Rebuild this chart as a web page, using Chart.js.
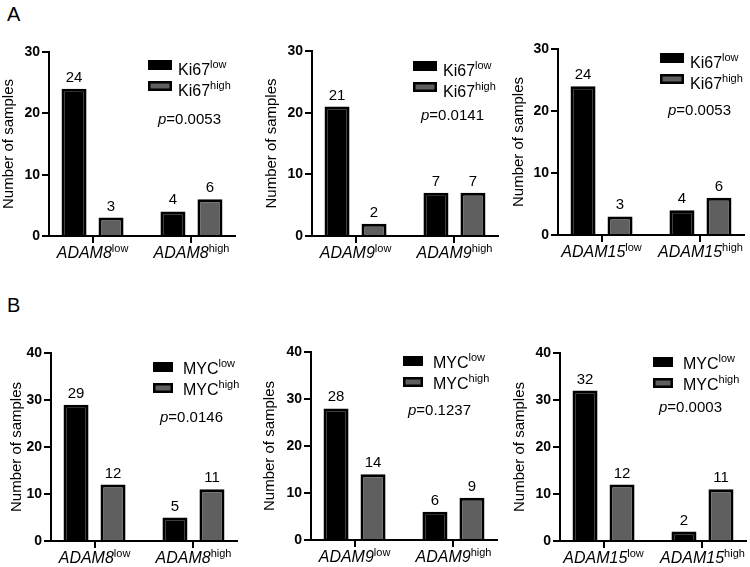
<!DOCTYPE html>
<html>
<head>
<meta charset="utf-8">
<script src="https://cdn.jsdelivr.net/npm/chart.js@4.4.1/dist/chart.umd.min.js"></script>
<style>
  body { margin: 0; background: #fff; }
  #fig { position: relative; width: 750px; height: 567px; overflow: hidden; font-family: 'Liberation Sans', Arial, sans-serif; }
  .tag { position: absolute; font-size: 20px; line-height: 20px; color: #000; }
  canvas { position: absolute; }
</style>
</head>
<body>
<div id="fig">
  <div class="tag" style="left:7px;top:4px">A</div>
  <div class="tag" style="left:7px;top:295px">B</div>
</div>
<script>
// values, [gene low, gene high]
const adam8Ki67Low = [24, 4];
const adam8Ki67High = [3, 6];
const adam9Ki67Low = [21, 7];
const adam9Ki67High = [2, 7];
const adam15Ki67Low = [24, 4];
const adam15Ki67High = [3, 6];
const adam8MycLow = [29, 5];
const adam8MycHigh = [12, 11];
const adam9MycLow = [28, 6];
const adam9MycHigh = [14, 9];
const adam15MycLow = [32, 2];
const adam15MycHigh = [12, 11];

const levels = ['low', 'high'];
const pValues = ['0.0053', '0.0141', '0.0053', '0.0146', '0.1237', '0.0003'];
const yMaxA = 30;
const yMaxB = 40;
const yStep = 10;

const FONT = "'Liberation Sans', Arial, sans-serif";
const Y_AXIS_W = 49;
const X_AXIS_H = 36;
const PAD_TOP = 22;
const PAD_RIGHT = 6;
const PLOT_W = 186;

// layout of each panel (page pixels for the plot area, offsets for legend / p text)
const panels = [
  { gene: 'ADAM8', marker: 'Ki67', low: adam8Ki67Low, high: adam8Ki67High, p: pValues[0], yMax: yMaxA,
    left: 49, top: 52, bottom: 236, titleOff: 40, leg: [99, 8], boxW: 24, gap: 6, txtDy: 15, pPos: [109, 72] },
  { gene: 'ADAM9', marker: 'Ki67', low: adam9Ki67Low, high: adam9Ki67High, p: pValues[1], yMax: yMaxA,
    left: 312, top: 51, bottom: 236, titleOff: 40, leg: [101, 10], boxW: 24, gap: 6, txtDy: 15, pPos: [109, 69] },
  { gene: 'ADAM15', marker: 'Ki67', low: adam15Ki67Low, high: adam15Ki67High, p: pValues[2], yMax: yMaxA,
    left: 558, top: 49, bottom: 235, titleOff: 39, leg: [102, 4], boxW: 24, gap: 6, txtDy: 15, pPos: [110, 66] },
  { gene: 'ADAM8', marker: 'MYC', low: adam8MycLow, high: adam8MycHigh, p: pValues[3], yMax: yMaxB,
    left: 51, top: 353, bottom: 541, titleOff: 34, leg: [102, 9], boxW: 20, gap: 10, txtDy: 12, pPos: [109, 69] },
  { gene: 'ADAM9', marker: 'MYC', low: adam9MycLow, high: adam9MycHigh, p: pValues[4], yMax: yMaxB,
    left: 311, top: 352, bottom: 540, titleOff: 41, leg: [92, 4], boxW: 20, gap: 10, txtDy: 12, pPos: [97, 63] },
  { gene: 'ADAM15', marker: 'MYC', low: adam15MycLow, high: adam15MycHigh, p: pValues[5], yMax: yMaxB,
    left: 560, top: 353, bottom: 541, titleOff: 40, leg: [93, 4], boxW: 20, gap: 10, txtDy: 12, pPos: [99, 59] }
];

function richText(ctx, x, y, parts, align) {
  let w = 0;
  parts.forEach(p => { ctx.font = p.font; p.w = ctx.measureText(p.text).width; w += p.w; });
  let cx = align === 'center' ? x - w / 2 : x;
  ctx.textAlign = 'left';
  ctx.textBaseline = 'alphabetic';
  ctx.fillStyle = '#000';
  parts.forEach(p => { ctx.font = p.font; ctx.fillText(p.text, cx, y + (p.dy || 0)); cx += p.w; });
}

const figureText = {
  id: 'figureText',
  afterDraw(chart, args, opts) {
    const ctx = chart.ctx;
    const area = chart.chartArea;
    const xs = chart.scales.x;
    ctx.save();

    // category labels with superscripts
    levels.forEach((lv, i) => {
      richText(ctx, xs.getPixelForValue(i), area.bottom + 22, [
        { text: opts.gene, font: 'italic 16px ' + FONT },
        { text: lv, font: '11px ' + FONT, dy: -6 }
      ], 'center');
    });

    // value above each bar
    ctx.font = '15px ' + FONT;
    ctx.textAlign = 'center';
    ctx.textBaseline = 'alphabetic';
    ctx.fillStyle = '#000';
    chart.data.datasets.forEach((ds, d) => {
      chart.getDatasetMeta(d).data.forEach((bar, i) => {
        ctx.fillText(String(ds.data[i].y), bar.x, bar.y - 7);
      });
    });

    // legend
    chart.data.datasets.forEach((ds, d) => {
      const bx = area.left + opts.leg[0];
      const by = area.top + opts.leg[1] + d * 21;
      ctx.fillStyle = '#000';
      ctx.fillRect(bx, by, opts.boxW, 10);
      if (d === 1) {
        ctx.fillStyle = ds.backgroundColor;
        ctx.fillRect(bx + 2.5, by + 2.5, opts.boxW - 5, 5);
      }
      richText(ctx, bx + opts.boxW + opts.gap, by + opts.txtDy, [
        { text: opts.marker, font: '16px ' + FONT },
        { text: levels[d], font: '11px ' + FONT, dy: -7 }
      ], 'left');
    });

    // p value
    richText(ctx, area.left + opts.pPos[0], area.top + opts.pPos[1], [
      { text: 'p', font: 'italic 15px ' + FONT },
      { text: '=' + opts.p, font: '15px ' + FONT }
    ], 'left');

    ctx.restore();
  }
};

const fig = document.getElementById('fig');

panels.forEach(pn => {
  const canvas = document.createElement('canvas');
  const w = Y_AXIS_W + PLOT_W + PAD_RIGHT;
  const h = PAD_TOP + (pn.bottom - pn.top) + X_AXIS_H;
  canvas.width = w;
  canvas.height = h;
  canvas.style.left = (pn.left - Y_AXIS_W) + 'px';
  canvas.style.top = (pn.top - PAD_TOP) + 'px';
  fig.appendChild(canvas);

  new Chart(canvas, {
    type: 'bar',
    data: {
      datasets: [
        {
          label: pn.marker + levels[0],
          data: pn.low.map((v, i) => ({ x: i, y: v })),
          backgroundColor: '#000',
          borderColor: '#000',
          borderWidth: 3
        },
        {
          label: pn.marker + levels[1],
          data: pn.high.map((v, i) => ({ x: i, y: v })),
          backgroundColor: '#5f5f5f',
          borderColor: '#000',
          borderWidth: 3
        }
      ]
    },
    options: {
      responsive: false,
      animation: false,
      categoryPercentage: 0.748,
      barPercentage: 0.676,
      layout: { padding: { top: PAD_TOP, right: PAD_RIGHT, left: 0, bottom: 0 } },
      scales: {
        x: {
          type: 'linear',
          min: -0.44,
          max: 1.44,
          bounds: 'data',
          offset: false,
          z: 1,
          afterBuildTicks: s => { s.ticks = levels.map((_, i) => ({ value: i })); },
          afterFit: s => { s.height = X_AXIS_H; },
          ticks: { display: false },
          grid: { offset: false, drawOnChartArea: false, drawTicks: true, tickLength: 7, color: '#000', lineWidth: 2 },
          border: { display: true, color: '#000', width: 2 }
        },
        y: {
          min: 0,
          max: pn.yMax,
          afterFit: s => { s.width = Y_AXIS_W; },
          ticks: { stepSize: yStep, color: '#000', padding: 2, font: { family: FONT, size: 14, weight: 'bold' } },
          grid: { drawOnChartArea: false, drawTicks: true, tickLength: 7, color: '#000', lineWidth: 2 },
          border: { display: true, color: '#000', width: 2 },
          title: {
            display: true,
            text: 'Number of samples',
            color: '#000',
            font: { family: FONT, size: 15, lineHeight: 1 },
            padding: { top: Y_AXIS_W - pn.titleOff - 7.5, bottom: 0 }
          }
        }
      },
      plugins: {
        legend: { display: false },
        tooltip: { enabled: false },
        figureText: { gene: pn.gene, marker: pn.marker, p: pn.p, leg: pn.leg, boxW: pn.boxW, gap: pn.gap, txtDy: pn.txtDy, pPos: pn.pPos }
      }
    },
    plugins: [figureText]
  });
});
</script>
</body>
</html>
